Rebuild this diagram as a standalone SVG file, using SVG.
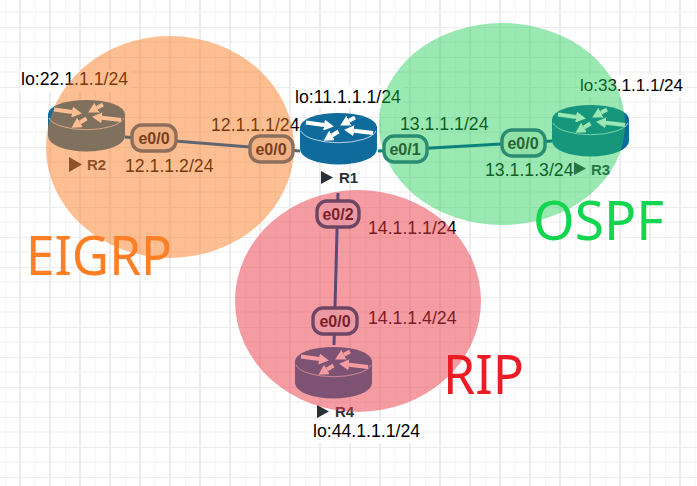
<svg xmlns="http://www.w3.org/2000/svg" width="697" height="486" viewBox="0 0 697 486">
<style>
text{font-family:"Liberation Sans",Arial,sans-serif;font-size:17.7px;fill:#000}
.if{font-size:16px;font-weight:bold;text-anchor:middle}
.nm{font-size:15px;font-weight:bold;fill:#2b2f36}
.big{font-family:"Noto Sans","Liberation Sans",sans-serif;font-size:55px}
.pill{stroke-width:3.4}
.o rect{fill:#f0b284;stroke:#8c6e5a}.o text{fill:#78401f}
.g rect{fill:#90e2a8;stroke:#2a8c72}.g text{fill:#286432}
.r rect{fill:#eb98a2;stroke:#6e4664}.r text{fill:#7a1f2a}
.lk{stroke-width:3;fill:none}
.bg{fill:#fff}
.tri{fill:#2b2f36}
</style>
<defs>
<pattern id="grid" width="30" height="30" patternUnits="userSpaceOnUse" x="5" y="-3">
<path d="M0 15H30M0 0V30" stroke="#f6f6f7" stroke-width="2" fill="none"/>
<path d="M15 0V30M0 0H30" stroke="#ededef" stroke-width="2.200" fill="none"/>
</pattern>
<marker id="ah" markerUnits="userSpaceOnUse" markerWidth="10" markerHeight="11" refX="0" refY="5.500" orient="auto"><path d="M0 0L10 5.500L0 11Z" fill="#fff"/></marker>
<symbol id="router" width="78" height="52" viewBox="0 0 78 52" overflow="visible">
<path d="M0 14V36A38.500 15.500 0 0 0 77 36V14A38.500 14 0 0 0 0 14Z" fill="#0f6b9c"/>
<path d="M1 18A38 14 0 0 0 76 18" fill="none" stroke="#b9d4e3" stroke-width="1"/>
<g stroke="#fff" stroke-width="4" marker-end="url(#ah)" fill="none">
<line x1="6" y1="9.500" x2="24" y2="12"/>
<line x1="55" y1="4.500" x2="49" y2="7.700"/>
<line x1="73" y1="20" x2="54" y2="17.800"/>
<line x1="38.500" y1="18.500" x2="32" y2="22.500"/>
</g>
</symbol>
</defs>
<rect width="697" height="486" fill="#fff"/>
<rect width="697" height="486" fill="url(#grid)"/>
<g id="R1"><use href="#router" x="300" y="113"/><path class="tri" d="M321 171L333 177.500L321 184Z"/><text class="nm" x="339" y="183">R1</text></g>
<g id="R2"><use href="#router" x="48" y="100"/><path class="tri" d="M69 157L82 164.500L69 172Z"/><text class="nm" x="87" y="170">R2</text></g>
<g id="R3"><use href="#router" x="552" y="105"/><path class="tri" d="M574 162L586 168.500L574 175Z"/><text class="nm" x="591" y="175">R3</text></g>
<g id="R4"><use href="#router" x="295" y="347"/><path class="tri" d="M317 405L329 411.500L317 418Z"/><text class="nm" x="335" y="417">R4</text></g>
<g id="labels">
<rect class="bg" x="20" y="70" width="112" height="22"/><text x="21" y="85">lo:22.1.1.1/24</text>
<rect class="bg" x="294" y="86" width="110" height="22"/><text x="295" y="103">lo:11.1.1.1/24</text>
<rect class="bg" x="578" y="75" width="107" height="22"/><text x="580" y="91" style="font-size:17px">lo:33.1.1.1/24</text>
<rect class="bg" x="312" y="421" width="110" height="22"/><text x="313" y="437">lo:44.1.1.1/24</text>
<text x="211" y="131">12.1.1.1/24</text>
<text x="125" y="172">12.1.1.2/24</text>
<text x="400" y="130">13.1.1.1/24</text>
<text x="485" y="176">13.1.1.3/24</text>
<text x="368" y="234">14.1.1.1/24</text>
<text x="368" y="324">14.1.1.4/24</text>
</g>
<g id="zones">
<ellipse id="eigrp" cx="170" cy="147" rx="124" ry="111" fill="#fb781c" fill-opacity=".48"/>
<ellipse id="ospf" cx="502" cy="124" rx="123" ry="101" fill="#1fce56" fill-opacity=".45"/>
<ellipse id="rip" cx="358" cy="301" rx="123" ry="111" fill="#eb3a48" fill-opacity=".5"/>
</g>
<g id="connectors">
<line class="lk" stroke="#5f6670" x1="125" y1="137" x2="300" y2="151"/>
<line class="lk" stroke="#0b8279" x1="378" y1="151" x2="552" y2="141"/>
<line class="lk" stroke="#5a4a78" x1="338" y1="193" x2="334" y2="345"/>
</g>
<g id="interfaces">
<g class="o"><rect class="pill" x="132" y="125" width="44" height="26" rx="10"/><text class="if" x="154" y="144">e0/0</text></g>
<g class="o"><rect class="pill" x="250" y="136" width="43" height="26" rx="10"/><text class="if" x="271" y="155">e0/0</text></g>
<g class="g"><rect class="pill" x="384" y="136" width="43" height="26" rx="10"/><text class="if" x="405" y="155">e0/1</text></g>
<g class="g"><rect class="pill" x="502" y="130" width="43" height="26" rx="10"/><text class="if" x="523" y="149">e0/0</text></g>
<g class="r"><rect class="pill" x="317" y="201" width="42" height="26" rx="10"/><text class="if" x="338" y="220">e0/2</text></g>
<g class="r"><rect class="pill" x="313" y="308" width="44" height="26" rx="10"/><text class="if" x="335" y="327">e0/0</text></g>
</g>
<text class="big" x="26" y="275" textLength="146" lengthAdjust="spacingAndGlyphs" style="fill:#ff7f27">EIGRP</text>
<text class="big" x="533" y="240" textLength="131" lengthAdjust="spacingAndGlyphs" style="fill:#12d650">OSPF</text>
<text class="big" x="443" y="394" textLength="81" lengthAdjust="spacingAndGlyphs" style="fill:#ed1c24">RIP</text>
</svg>
